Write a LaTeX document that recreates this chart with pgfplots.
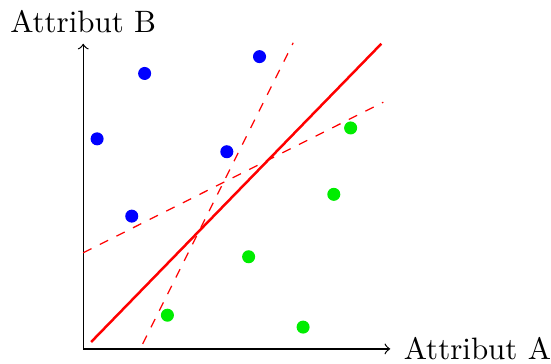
\documentclass[border=0pt]{standalone}
\usepackage{pgfplots}
\pgfplotsset{compat=1.18}
\begin{document}
\begin{tikzpicture}
\begin{axis}[
  scale only axis, width=99.2pt, height=98.6pt,
  xmin=0, xmax=310, ymin=0, ymax=308,
  axis lines=left, ticks=none,
  axis line style={-to},
  clip=false,
  xlabel={Attribut A}, ylabel={Attribut B},
  every axis x label/.style={at={(axis cs:310,0)}, anchor=west, inner xsep=0pt, inner ysep=1pt, xshift=4.2pt},
  every axis y label/.style={at={(axis cs:0,308)}, anchor=south},
]
\addplot[only marks, mark=*, mark size=1.9pt, blue] coordinates {
(62,278) (178,295) (14,212) (145,199) (49,134)};
\addplot[only marks, mark=*, mark size=1.9pt, mark options={draw=green!93!black, fill=green!93!black}] coordinates {
(270,223) (253,156) (167,93) (85,34) (222,22)};
\addplot[red, thick] coordinates {(8,7) (301,308)};
\addplot[red, dashed] coordinates {(0,97) (303,249)};
\addplot[red, dashed] coordinates {(60,5) (212,309)};
\end{axis}
\end{tikzpicture}
\end{document}
